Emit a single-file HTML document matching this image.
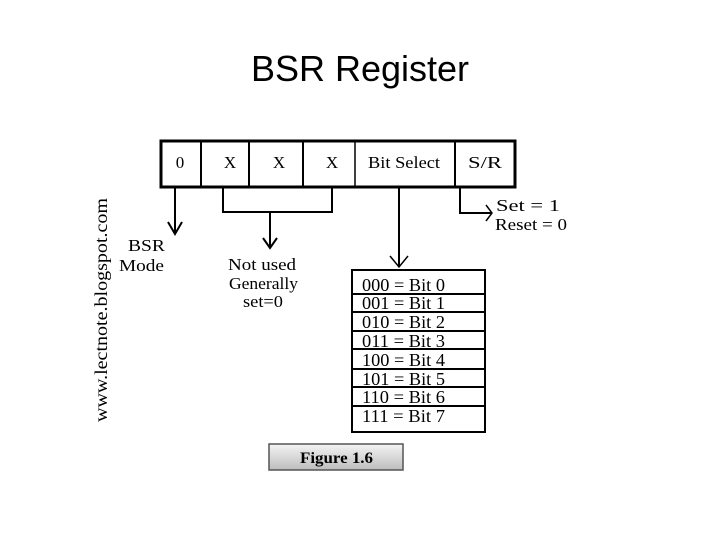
<!DOCTYPE html>
<html><head><meta charset="utf-8"><style>
html,body{margin:0;padding:0;background:#fff;}
svg{display:block;}
</style></head><body>
<svg width="720" height="540" viewBox="0 0 720 540" xmlns="http://www.w3.org/2000/svg">
<defs>
<linearGradient id="g" x1="0" y1="0" x2="0" y2="1">
<stop offset="0" stop-color="#f4f4f4"/><stop offset="1" stop-color="#bdbdbd"/>
</linearGradient>
</defs>
<text x="360" y="81" text-anchor="middle" font-family="Liberation Sans, sans-serif" font-size="36" fill="#000">BSR Register</text>

<g stroke="#000" fill="none">
<rect x="161" y="141" width="354" height="46" stroke-width="3"/>
<line x1="201" y1="141" x2="201" y2="187" stroke-width="2"/>
<line x1="249" y1="141" x2="249" y2="187" stroke-width="2"/>
<line x1="303" y1="141" x2="303" y2="187" stroke-width="2"/>
<line x1="355" y1="141" x2="355" y2="187" stroke-width="1.5"/>
<line x1="455" y1="141" x2="455" y2="187" stroke-width="2"/>

<line x1="175" y1="187" x2="175" y2="233" stroke-width="2"/>
<polyline points="168,222 175,234 182,222" stroke-width="2"/>

<polyline points="223,187 223,212 332,212 332,187" stroke-width="2"/>
<line x1="270" y1="212" x2="270" y2="248" stroke-width="2"/>
<polyline points="263,238 270,248 277,238" stroke-width="2"/>

<line x1="399" y1="187" x2="399" y2="267" stroke-width="2"/>
<polyline points="390,256 399,267 408,256" stroke-width="1.5"/>

<polyline points="460,187 460,213 491,213" stroke-width="2"/>
<polyline points="486,205 492,213 486,221" stroke-width="1.5"/>

<rect x="352" y="270" width="133" height="162" stroke-width="2"/>
<g stroke-width="2">
<line x1="352" y1="294" x2="485" y2="294"/>
<line x1="352" y1="312" x2="485" y2="312"/>
<line x1="352" y1="331" x2="485" y2="331"/>
<line x1="352" y1="349" x2="485" y2="349"/>
<line x1="352" y1="369" x2="485" y2="369"/>
<line x1="352" y1="387" x2="485" y2="387"/>
<line x1="352" y1="406" x2="485" y2="406"/>
</g>
</g>

<g font-family="Liberation Serif, serif" font-size="17" fill="#000" lengthAdjust="spacingAndGlyphs">
<text x="180" y="168" text-anchor="middle">0</text>
<text x="230" y="168" text-anchor="middle">X</text>
<text x="279" y="168" text-anchor="middle">X</text>
<text x="332" y="168" text-anchor="middle">X</text>
<text x="368" y="168" textLength="72" lengthAdjust="spacingAndGlyphs">Bit Select</text>
<text x="468" y="168" textLength="34" lengthAdjust="spacingAndGlyphs">S/R</text>
<text x="128" y="251" textLength="37" lengthAdjust="spacingAndGlyphs">BSR</text>
<text x="119" y="271" textLength="45" lengthAdjust="spacingAndGlyphs">Mode</text>
<text x="228" y="270" textLength="68" lengthAdjust="spacingAndGlyphs">Not used</text>
<text x="229" y="289" textLength="69" lengthAdjust="spacingAndGlyphs">Generally</text>
<text x="243" y="307" textLength="40" lengthAdjust="spacingAndGlyphs">set=0</text>
<text x="496" y="211" textLength="64" lengthAdjust="spacingAndGlyphs">Set = 1</text>
<text x="495" y="230" textLength="72" lengthAdjust="spacingAndGlyphs">Reset = 0</text>
<g font-size="18">
<text x="362" y="291" textLength="83" lengthAdjust="spacingAndGlyphs">000 = Bit 0</text>
<text x="362" y="309" textLength="83" lengthAdjust="spacingAndGlyphs">001 = Bit 1</text>
<text x="362" y="328" textLength="83" lengthAdjust="spacingAndGlyphs">010 = Bit 2</text>
<text x="362" y="347" textLength="83" lengthAdjust="spacingAndGlyphs">011 = Bit 3</text>
<text x="362" y="366" textLength="83" lengthAdjust="spacingAndGlyphs">100 = Bit 4</text>
<text x="362" y="385" textLength="83" lengthAdjust="spacingAndGlyphs">101 = Bit 5</text>
<text x="362" y="403" textLength="83" lengthAdjust="spacingAndGlyphs">110 = Bit 6</text>
<text x="362" y="422" textLength="83" lengthAdjust="spacingAndGlyphs">111 = Bit 7</text>
</g>
<text transform="translate(107,310) rotate(-90)" text-anchor="middle" font-size="18" textLength="224" lengthAdjust="spacingAndGlyphs">www.lectnote.blogspot.com</text>
</g>

<rect x="269" y="444" width="134" height="26" fill="url(#g)" stroke="#555" stroke-width="1.5"/>
<text x="300" y="463" textLength="73" lengthAdjust="spacingAndGlyphs" font-family="Liberation Serif, serif" font-size="16" font-weight="bold" fill="#000">Figure 1.6</text>
</svg>
</body></html>
